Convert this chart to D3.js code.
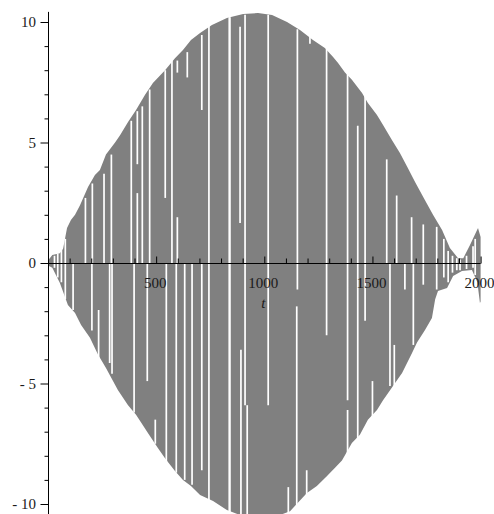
<!DOCTYPE html>
<html>
<head>
<meta charset="utf-8">
<script src="https://cdn.jsdelivr.net/npm/d3@7"></script>
<style>
  body { margin: 0; background: #fff; }
  svg { display: block; }
  .lbl { font-family: "Liberation Serif", "DejaVu Serif", serif; font-size: 15px; fill: #1a1a1a; }
</style>
</head>
<body>
<div id="plot"></div>
<script>
const W = 494, H = 514;

// upper envelope of the oscillation (t, value)
const upperT = [0, 20, 55, 70, 88, 106, 125, 148, 185, 217, 240, 268, 310, 333, 370, 407, 448, 485, 541, 587, 624, 661, 703, 758, 827, 902, 971, 1036, 1105, 1165, 1225, 1280, 1318, 1341, 1373, 1405, 1452, 1479, 1521, 1549, 1590, 1627, 1660, 1697, 1743, 1780, 1822, 1858, 1896, 1920, 1951, 1988, 2000];
const upperV = [0.1, 0.33, 0.4, 0.6, 1.45, 1.78, 2.0, 2.4, 3.15, 3.65, 3.86, 4.5, 5.0, 5.3, 5.85, 6.35, 6.97, 7.47, 8.0, 8.5, 8.84, 9.25, 9.54, 9.88, 10.17, 10.33, 10.37, 10.29, 10.0, 9.67, 9.25, 8.92, 8.55, 8.3, 7.9, 7.6, 7.05, 6.64, 6.14, 5.73, 5.1, 4.56, 4.0, 3.36, 2.6, 2.0, 1.37, 0.62, 0.2, 0.2, 0.75, 1.45, 1.08];

// lower envelope
const lowerT = [0, 20, 55, 92, 125, 153, 194, 231, 268, 323, 370, 407, 462, 508, 541, 587, 624, 661, 703, 763, 827, 900, 980, 1060, 1119, 1197, 1243, 1290, 1327, 1359, 1405, 1442, 1479, 1521, 1549, 1595, 1637, 1683, 1706, 1743, 1775, 1790, 1803, 1845, 1873, 1914, 1960, 1985, 1997, 2000];
const lowerV = [-0.1, -0.2, -0.83, -1.74, -2.07, -2.57, -3.1, -3.8, -4.36, -5.27, -5.9, -6.3, -7.05, -7.68, -8.1, -8.63, -9.0, -9.25, -9.63, -9.88, -10.25, -10.5, -10.55, -10.5, -10.3, -9.54, -9.25, -8.84, -8.5, -8.2, -7.47, -7.13, -6.5, -6.1, -5.7, -5.1, -4.56, -3.73, -3.3, -2.78, -2.28, -1.5, -1.16, -1.04, -0.54, -0.33, -0.29, -0.8, -1.66, -1.6];

// white aliasing gaps in the sampled curve: t, top value, bottom value
const gapT = [30, 45, 62, 80, 116, 173, 203, 205, 234, 259, 285, 293, 296, 385, 398, 413, 413, 436, 459, 470, 496, 542, 547, 573, 593, 598, 598, 632, 644, 666, 711, 711, 744, 838, 841, 888, 892, 911, 921, 1018, 1111, 1150, 1153, 1196, 1211, 1288, 1385, 1385, 1432, 1466, 1500, 1566, 1581, 1601, 1612, 1650, 1681, 1689, 1735, 1797, 1830, 1850, 1870, 1890, 1905, 1935, 1965, 1975];
const gapTop = [0.3, 0.4, 0.6, 1.0, 0, 2.7, 0, 3.3, -1.95, 3.7, 0, 4.5, 0, 5.9, 0, 6.3, 2.9, 6.5, 0, 7.2, -6.5, 8.0, 0, 8.4, 0, 8.4, 1.9, 0, 8.75, 0, 9.46, 0, 9.9, 10.2, 10.2, 9.8, -3.6, 10.3, -5.9, 10.3, -9.3, -1.8, 9.7, -8.6, 9.5, 8.9, 7.9, -6.1, 5.7, 7.0, -4.9, 4.3, 0, -3.4, 2.8, 0, 1.9, 0, 1.6, 1.5, 1.0, 0.5, 0.3, 0.2, 0.15, 0.3, 0.7, 1.0];
const gapBottom = [-0.2, -0.6, -0.8, -1.5, -1.95, 0, -2.8, 0, -4.15, 0, -4.15, 0, -4.6, 0, -6.2, 4.1, 0, 0, -4.9, 0, -7.5, 2.7, -8.6, 0, -8.7, 7.9, 0, -9.0, 7.7, -9.2, 6.35, -8.6, -10.6, -10.6, -10.6, 1.66, -10.6, -5.9, -10.6, -5.9, -10.6, -10.6, -1.1, -10.6, 9.1, -3.0, -5.7, -8.2, -7.3, -2.4, -6.4, 0, -5.1, -5.1, 0, -1.1, 0, -3.4, -0.9, -1.1, -0.6, -0.8, -0.4, -0.3, -0.3, -0.25, -0.2, -0.5];

const xMajor = [500, 1000, 1500, 2000];
const yMajor = [10, 5, 0, -5, -10];
const yLabels = ["10", "5", "0", "- 5", "- 10"];

const x = d3.scaleLinear().domain([0, 2000]).range([48, 480.6]);
const y = d3.scaleLinear().domain([-10, 10]).range([504, 22]);

const svg = d3.select("#plot").append("svg")
    .attr("width", W)
    .attr("height", H);

const upper = upperT.map((t, i) => ({t: t, v: upperV[i]}));
const lower = lowerT.map((t, i) => ({t: t, v: lowerV[i]}));

const area = d3.area()
    .x(d => x(d.t))
    .y0(y(0))
    .y1(d => y(d.v));

svg.append("path").datum(upper).attr("d", area).attr("fill", "#808080");
svg.append("path").datum(lower).attr("d", area).attr("fill", "#808080");

// gaps
svg.append("g").selectAll("line")
    .data(gapT)
  .enter().append("line")
    .attr("x1", d => x(d)).attr("x2", d => x(d))
    .attr("y1", (d, i) => y(gapTop[i]))
    .attr("y2", (d, i) => y(gapBottom[i]))
    .attr("stroke", "#fff")
    .attr("stroke-width", 1.7);

// x axis with ticks pointing up
const xAxis = d3.axisTop(x)
    .tickValues(d3.range(100, 2001, 100))
    .tickSize(5)
    .tickFormat("");
const gx = svg.append("g")
    .attr("transform", "translate(0," + (y(0) + 0.5) + ")")
    .call(xAxis);
gx.select(".domain").attr("d", "M" + x(0) + ",0H" + x(2000)).attr("stroke", "#000");
gx.selectAll(".tick line").attr("stroke", "#000");
gx.selectAll(".tick")
  .filter(d => xMajor.includes(d))
  .select("line").attr("y2", -7);

svg.append("g").selectAll("text")
    .data(xMajor)
  .enter().append("text")
    .attr("class", "lbl")
    .attr("x", d => x(d) - 1)
    .attr("y", 288)
    .attr("text-anchor", "middle")
    .text(d => d);

svg.append("text")
    .attr("class", "lbl")
    .attr("x", x(1000) - 1)
    .attr("y", 308)
    .attr("text-anchor", "middle")
    .style("font-style", "italic")
    .text("t");

// y axis
const yAxis = d3.axisLeft(y)
    .tickValues(d3.range(-10, 11, 1))
    .tickSize(4)
    .tickFormat("");
const gy = svg.append("g")
    .attr("transform", "translate(" + (x(0) + 0.5) + ",0)")
    .call(yAxis);
gy.select(".domain").attr("d", "M0," + y(10.42) + "V" + H).attr("stroke", "#000");
gy.selectAll(".tick line").attr("stroke", "#000");
gy.selectAll(".tick")
  .filter(d => yMajor.includes(d))
  .select("line").attr("x2", -8);

svg.append("g").selectAll("text")
    .data(yMajor)
  .enter().append("text")
    .attr("class", "lbl")
    .attr("x", 36)
    .attr("y", d => y(d))
    .attr("dy", "0.34em")
    .attr("text-anchor", "end")
    .text((d, i) => yLabels[i]);
</script>
</body>
</html>
